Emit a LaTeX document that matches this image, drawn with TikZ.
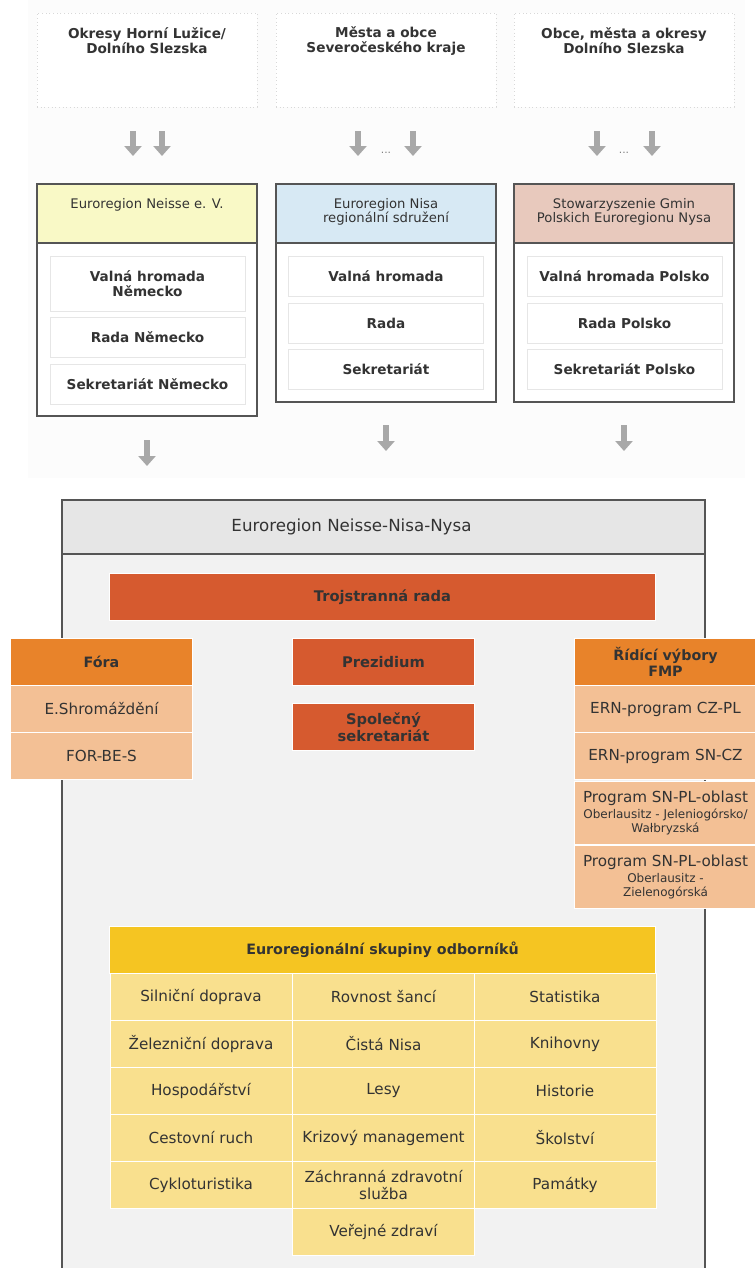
\documentclass[tikz,border=0pt]{standalone}
\usepackage{fontspec}
\setmainfont{DejaVu Sans}
\usetikzlibrary{arrows.meta}

\definecolor{txtgray}{HTML}{333333}
\definecolor{dotgray}{HTML}{D8D8D8}
\definecolor{pagegray}{HTML}{FCFCFC}
\definecolor{framegray}{HTML}{555555}
\definecolor{innergray}{HTML}{E6E6E6}
\definecolor{arrowgray}{HTML}{A8A8A8}
\definecolor{headyellow}{HTML}{F9F9C6}
\definecolor{headblue}{HTML}{D7E9F4}
\definecolor{headpink}{HTML}{E8C9BD}
\definecolor{headgray}{HTML}{E6E6E6}
\definecolor{bodygray}{HTML}{F2F2F2}
\definecolor{redorange}{HTML}{D65A2F}
\definecolor{deeporange}{HTML}{E8832A}
\definecolor{lightorange}{HTML}{F3C095}
\definecolor{gold}{HTML}{F5C522}
\definecolor{lightyellow}{HTML}{F9E08E}

\tikzset{every picture/.style={line width=0.75pt}}
\tikzset{
	srcbox/.style={draw=dotgray, dotted, fill=white, minimum width=165pt, minimum height=70.5pt, inner sep=0pt},
	srclabel/.style={text=txtgray, align=center, inner sep=0pt, font=\bfseries\fontsize{10.2}{11.25}\selectfont},
	orgframe/.style={draw=framegray, line width=1.1pt},
	orghead/.style={text=txtgray, align=center, inner sep=0pt, font=\fontsize{9.9}{10.5}\selectfont},
	organ/.style={draw=innergray, fill=white, text=txtgray, align=center, minimum width=146.25pt, minimum height=30pt, inner sep=0pt, font=\bfseries\fontsize{10.2}{11.25}\selectfont},
	blockarrow/.style={draw=arrowgray, line width=4.5pt, -{Triangle[width=12.75pt,length=7.5pt]}},
	dots/.style={text=gray, inner sep=0pt, font=\fontsize{8}{8}\selectfont},
	redbox/.style={fill=redorange, draw=white, text=txtgray, align=center, minimum height=35.25pt, inner sep=0pt, font=\bfseries\fontsize{11}{12.75}\selectfont},
	orangehead/.style={fill=deeporange, draw=white, text=txtgray, align=center, minimum width=136.5pt, minimum height=35.25pt, inner sep=0pt, font=\bfseries\fontsize{10.7}{11.5}\selectfont},
	orangecell/.style={fill=lightorange, draw=white, text=txtgray, align=center, minimum width=136.5pt, minimum height=35.25pt, inner sep=0pt, font=\fontsize{11.4}{12.75}\selectfont},
	experthead/.style={fill=gold, draw=white, text=txtgray, minimum width=409.5pt, minimum height=35.25pt, inner sep=0pt, font=\bfseries\fontsize{10.7}{12}\selectfont},
	expertcell/.style={fill=lightyellow, draw=white, text=txtgray, align=center, minimum width=136.5pt, minimum height=35.25pt, inner sep=0pt, font=\fontsize{11.4}{12.75}\selectfont}
}
\newcommand{\smalltxt}{\fontsize{9}{10.5}\selectfont}

\begin{document}
\begin{tikzpicture}[x=0.75pt,y=0.75pt,yscale=-1,xscale=1]
	\useasboundingbox (0,0) rectangle (754,1268);
	%Shape: Rectangle [page tint of the upper part]
	\fill[pagegray] (28,0) rectangle (745,478);

	% Members
	\node[srcbox] (kreise) at (147,60) {};
	\node[srcbox] (mesta) at (386,60) {};
	\node[srcbox] (gminy) at (624,60) {};
	% Text Node
	\node[srclabel] (kreiset) at (147,41) {Okresy Horní Lužice/\\Dolního Slezska};
	% Text Node
	\node[srclabel] (mestat) at (386,41) {Města a obce\\Severočeského kraje};
	% Text Node
	\node[srclabel] (gminyt) at (624,41) {Obce, města a okresy\\Dolního Slezska};

	%Straight Lines [arrows under the members]
	\foreach \n/\x/\ya/\yb in {1/133/131/156, 2/162/131/156, 3/358/131/156, 4/413/131/156, 5/597/131/156, 6/652/131/156, 7/147/440/466, 8/386/425/451, 9/624/425/451}{
		\coordinate (arr\n s) at (\x,\ya);
		\coordinate (arr\n e) at (\x,\yb);
		\draw[blockarrow] (arr\n s) -- (arr\n e);
	}
	% Text Node
	\node[dots] (dotsmesta) at (386,153) {...};
	% Text Node
	\node[dots] (dotsgminy) at (624,153) {...};

	%Shape: Rectangle [Neisse e. V.]
	\draw[orgframe, fill=white] (37,184) rectangle (257,416);
	\draw[orgframe, fill=headyellow] (37,184) rectangle (257,243);
	\node[orghead] (neisseev) at (147,205) {Euroregion Neisse e. V.};
	\node[organ, minimum height=41.25pt] (vhde) at (147.5,283.5) {Valná hromada\\Německo};
	\node[organ] (radade) at (147.5,337.5) {Rada Německo};
	\node[organ] (sekde) at (147.5,384) {Sekretariát Německo};

	%Shape: Rectangle [Nisa]
	\draw[orgframe, fill=white] (276,184) rectangle (496,402);
	\draw[orgframe, fill=headblue] (276,184) rectangle (496,243);
	\node[orghead] (nisars) at (386,212) {Euroregion Nisa\\regionální sdružení};
	\node[organ] (vhcz) at (386,276) {Valná hromada};
	\node[organ] (radacz) at (386,323) {Rada};
	\node[organ] (sekcz) at (386,369) {Sekretariát};

	%Shape: Rectangle [Nysa]
	\draw[orgframe, fill=white] (514,184) rectangle (734,402);
	\draw[orgframe, fill=headpink] (514,184) rectangle (734,243);
	\node[orghead] (sgpen) at (624,212) {Stowarzyszenie Gmin\\Polskich Euroregionu Nysa};
	\node[organ] (vhpl) at (624.5,276) {Valná hromada Polsko};
	\node[organ] (radapl) at (624.5,323) {Rada Polsko};
	\node[organ] (sekpl) at (624.5,369) {Sekretariát Polsko};

	%Shape: Rectangle [Euroregion Neisse-Nisa-Nysa]
	\fill[bodygray] (62,500) rectangle (705,1268);
	\fill[headgray] (62,500) rectangle (705,554);
	\draw[orgframe, line width=1.5pt] (62,1268) -- (62,500) -- (705,500) -- (705,1268);
	\draw[orgframe, line width=1.5pt] (62,554) -- (705,554);
	% Text Node
	\node[text=txtgray, font=\fontsize{12.5}{14}\selectfont] (ernn) at (351.5,527) {Euroregion Neisse-Nisa-Nysa};

	\node[redbox, minimum width=409.5pt] (trojrada) at (382.5,597) {Trojstranná rada};
	\node[redbox, minimum width=136.5pt] (prezidium) at (383.5,662) {Prezidium};
	\node[redbox, minimum width=136.5pt] (spolsek) at (383.5,727) {Společný\\sekretariát};

	% Fora
	\node[orangehead] (fora) at (101.5,662) {Fóra};
	\node[orangecell] (eshrom) at (101.5,709) {E.Shromáždění};
	\node[orangecell] (forbes) at (101.5,756) {FOR-BE-S};

	% Ridici vybory
	\node[orangehead] (ridici) at (665.5,662) {Řídící výbory\\FMP};
	\node[orangecell] (czpl) at (665.5,709) {ERN-program CZ-PL};
	\node[orangecell] (sncz) at (665.5,756) {ERN-program SN-CZ};
	\node[orangecell, minimum height=47.25pt] (snpljel) at (665.5,813) {Program SN-PL-oblast\\[-1pt]{\smalltxt Oberlausitz - Jeleniogórsko/}\\[-2.5pt]{\smalltxt Wałbryzská}};
	\node[orangecell, minimum height=47.25pt] (snplziel) at (665.5,877) {Program SN-PL-oblast\\[-1pt]{\smalltxt Oberlausitz -}\\[-2.5pt]{\smalltxt Zielenogórská}};

	% Expert groups
	\node[experthead] (experti) at (382.5,950) {Euroregionální skupiny odborníků};
	\node[expertcell] (silnice) at (201,997) {Silniční doprava};
	\node[expertcell] (rovnost) at (383.5,997) {Rovnost šancí};
	\node[expertcell] (statistika) at (565,997) {Statistika};
	\node[expertcell] (zeleznice) at (201,1044) {Železniční doprava};
	\node[expertcell] (cistanisa) at (383.5,1044) {Čistá Nisa};
	\node[expertcell] (knihovny) at (565,1044) {Knihovny};
	\node[expertcell] (hospodarstvi) at (201,1091) {Hospodářství};
	\node[expertcell] (lesy) at (383.5,1091) {Lesy};
	\node[expertcell] (historie) at (565,1091) {Historie};
	\node[expertcell] (cestruch) at (201,1138) {Cestovní ruch};
	\node[expertcell] (krizovy) at (383.5,1138) {Krizový management};
	\node[expertcell] (skolstvi) at (565,1138) {Školství};
	\node[expertcell] (cyklo) at (201,1185) {Cykloturistika};
	\node[expertcell] (zachranna) at (383.5,1185) {Záchranná zdravotní\\služba};
	\node[expertcell] (pamatky) at (565,1185) {Památky};
	\node[expertcell] (verzdravi) at (383.5,1232) {Veřejné zdraví};

\end{tikzpicture}
\end{document}
